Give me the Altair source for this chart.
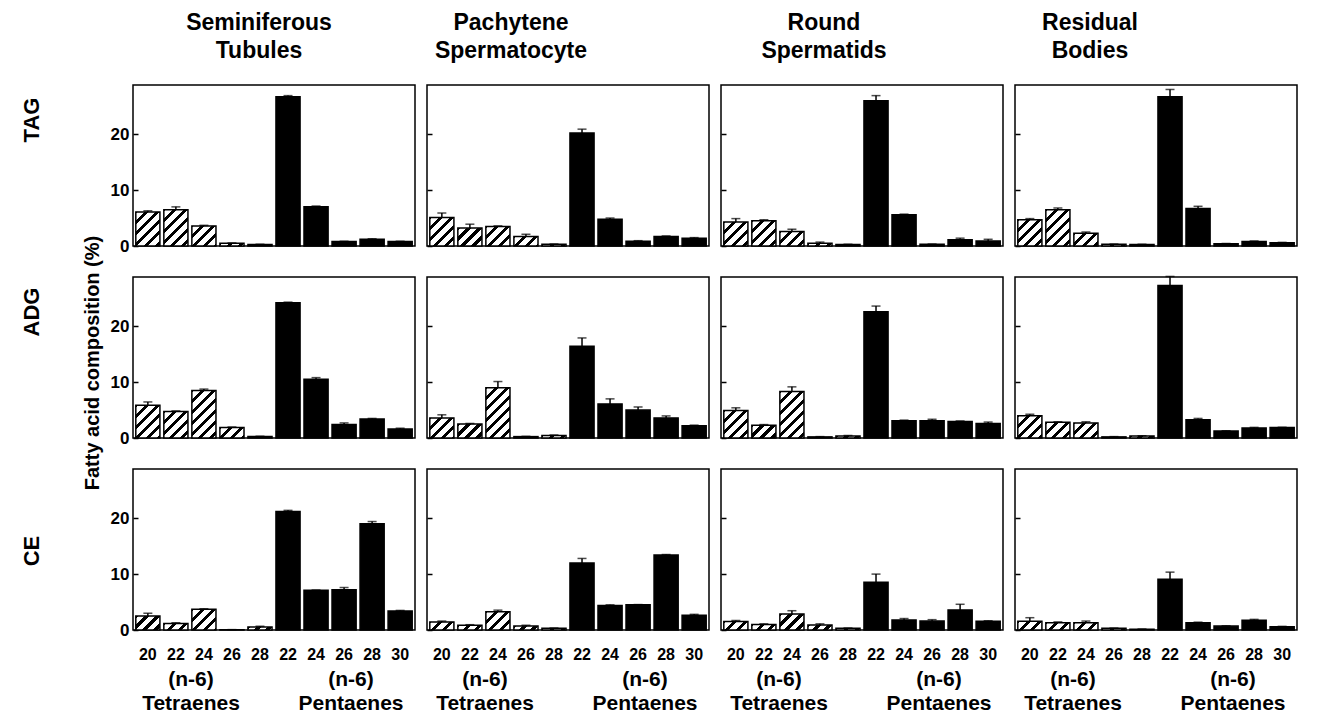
import altair as alt
import pandas as pd

# ---------------- data ----------------
cells = ["Seminiferous Tubules", "Pachytene Spermatocyte", "Round Spermatids", "Residual Bodies"]
cell_titles = [["Seminiferous", "Tubules"], ["Pachytene", "Spermatocyte"], ["Round", "Spermatids"], ["Residual", "Bodies"]]
lipids = ["TAG", "ADG", "CE"]
acids = ["T20", "T22", "T24", "T26", "T28", "P22", "P24", "P26", "P28", "P30"]
tetraenes = ["T20", "T22", "T24", "T26", "T28"]

# TAG
tag_tubules = [6.1, 6.5, 3.6, 0.5, 0.25, 26.7, 7.0, 0.8, 1.2, 0.8]
tag_tubules_err = [0.2, 0.5, 0.1, 0.05, 0.05, 0.2, 0.15, 0.05, 0.1, 0.05]
tag_pachytene = [5.1, 3.2, 3.5, 1.7, 0.3, 20.2, 4.8, 0.85, 1.7, 1.4]
tag_pachytene_err = [0.8, 0.7, 0.1, 0.4, 0.05, 0.7, 0.2, 0.1, 0.1, 0.1]
tag_round = [4.3, 4.5, 2.6, 0.5, 0.25, 26.0, 5.6, 0.3, 1.1, 0.9]
tag_round_err = [0.6, 0.2, 0.4, 0.2, 0.05, 0.9, 0.1, 0.05, 0.3, 0.3]
tag_residual = [4.7, 6.5, 2.3, 0.3, 0.25, 26.7, 6.7, 0.4, 0.8, 0.6]
tag_residual_err = [0.2, 0.3, 0.2, 0.05, 0.05, 1.3, 0.4, 0.05, 0.1, 0.05]

# ADG
adg_tubules = [5.85, 4.75, 8.5, 1.87, 0.25, 24.2, 10.5, 2.4, 3.4, 1.6]
adg_tubules_err = [0.6, 0.1, 0.25, 0.1, 0.05, 0.1, 0.3, 0.3, 0.1, 0.15]
adg_pachytene = [3.6, 2.5, 9.0, 0.25, 0.45, 16.4, 6.1, 5.0, 3.6, 2.2]
adg_pachytene_err = [0.55, 0.1, 1.1, 0.05, 0.1, 1.5, 0.9, 0.55, 0.35, 0.1]
adg_round = [4.9, 2.3, 8.3, 0.2, 0.35, 22.6, 3.1, 3.1, 2.95, 2.6]
adg_round_err = [0.5, 0.1, 0.85, 0.05, 0.1, 1.0, 0.1, 0.25, 0.1, 0.25]
adg_residual = [4.0, 2.8, 2.7, 0.2, 0.35, 27.3, 3.25, 1.25, 1.8, 1.87]
adg_residual_err = [0.25, 0.1, 0.2, 0.05, 0.05, 1.6, 0.25, 0.05, 0.1, 0.05]

# CE
ce_tubules = [2.5, 1.15, 3.7, 0.05, 0.55, 21.2, 7.1, 7.2, 19.0, 3.4]
ce_tubules_err = [0.5, 0.15, 0.1, 0.02, 0.1, 0.2, 0.05, 0.4, 0.4, 0.1]
ce_pachytene = [1.45, 0.85, 3.25, 0.7, 0.3, 12.0, 4.4, 4.5, 13.4, 2.65]
ce_pachytene_err = [0.15, 0.1, 0.3, 0.15, 0.05, 0.8, 0.1, 0.05, 0.1, 0.15]
ce_round = [1.5, 1.0, 2.85, 0.9, 0.3, 8.55, 1.8, 1.6, 3.6, 1.55]
ce_round_err = [0.2, 0.1, 0.6, 0.2, 0.05, 1.45, 0.25, 0.25, 1.0, 0.1]
ce_residual = [1.55, 1.3, 1.3, 0.3, 0.15, 9.1, 1.3, 0.7, 1.75, 0.6]
ce_residual_err = [0.65, 0.15, 0.3, 0.05, 0.05, 1.25, 0.1, 0.05, 0.15, 0.05]

values = {
    "TAG": [(tag_tubules, tag_tubules_err), (tag_pachytene, tag_pachytene_err),
            (tag_round, tag_round_err), (tag_residual, tag_residual_err)],
    "ADG": [(adg_tubules, adg_tubules_err), (adg_pachytene, adg_pachytene_err),
            (adg_round, adg_round_err), (adg_residual, adg_residual_err)],
    "CE": [(ce_tubules, ce_tubules_err), (ce_pachytene, ce_pachytene_err),
           (ce_round, ce_round_err), (ce_residual, ce_residual_err)],
}

# ---------------- layout / style ----------------
FONT = "Liberation Sans"
W, H = 282, 161
YMAX = 28.8
PAD_IN, PAD_OUT = 0.14, 0.1
STEP = W / (len(acids) - PAD_IN + 2 * PAD_OUT)
BAR_W = STEP * (1 - PAD_IN)
TITLE_DX = [-15, -57, -38, -66]


def hatch(v, period=11.0, black=4.2, phase=-2.0):
    """Diagonal '/' hatch built from a striped linear gradient (45 deg in pixels)."""
    w = BAR_W
    h = max(v * H / YMAX, 0.8)
    L = w + h
    s = L / (w * w + h * h)
    stops = [{"offset": 0, "color": "white"}]
    p = phase
    while p < L:
        a, b = max(p, 0) / L, min(p + black, L) / L
        if b > a:
            stops += [{"offset": a, "color": "white"}, {"offset": a, "color": "black"},
                      {"offset": b, "color": "black"}, {"offset": b, "color": "white"}]
        p += period
    stops.append({"offset": 1, "color": "white"})
    return {"gradient": "linear", "x1": 0, "y1": 0, "x2": w * s, "y2": h * s, "stops": stops}


def text_layer(label, x, y, size, angle=0):
    return alt.Chart(pd.DataFrame({"t": [label]})).mark_text(
        font=FONT, fontWeight="bold", fontSize=size, color="black",
        align="center", baseline="middle", angle=angle
    ).encode(text="t:N", x=alt.value(x), y=alt.value(y))


row_label_y = {"TAG": 35, "ADG": 35, "CE": 82}

panels = []
for r, lipid in enumerate(lipids):
    for c, cell in enumerate(cells):
        vals, errs = values[lipid][c]
        df = pd.DataFrame({"acid": acids, "value": vals, "err": errs})
        df["top"] = df["value"] + df["err"]

        fill = {
            "condition": [
                {"test": f"datum.acid === '{a}'", "value": hatch(v)}
                for a, v in zip(acids, vals) if a in tetraenes
            ],
            "value": "black",
        }

        if r == len(lipids) - 1:
            x_axis = alt.Axis(labelExpr="substring(datum.label, 1)", ticks=False, domain=False,
                              labelPadding=16, labelFontSize=16, labelFont=FONT,
                              labelFontWeight="bold", labelColor="black", labelAngle=0, title=None)
        else:
            x_axis = None
        y_axis = alt.Axis(values=[0, 10, 20], offset=-5, tickSize=5, tickWidth=1.5,
                          tickColor="black", domain=False, grid=False,
                          labels=(c == 0), labelFontSize=17, labelFont=FONT,
                          labelFontWeight="bold", labelColor="black", labelPadding=4, title=None)

        x_enc = alt.X("acid:N", sort=acids, axis=x_axis,
                      scale=alt.Scale(paddingInner=PAD_IN, paddingOuter=PAD_OUT))
        y_scale = alt.Scale(domain=[0, YMAX], nice=False)

        base = alt.Chart(df)
        bars = base.mark_bar(stroke="black", strokeWidth=1.5).encode(
            x=x_enc, y=alt.Y("value:Q", scale=y_scale, axis=y_axis), fill=fill)
        stem = base.mark_rule(color="black", strokeWidth=1.5).encode(
            x=alt.X("acid:N", sort=acids), y="value:Q", y2="top:Q")
        cap = base.mark_tick(color="black", thickness=1.5, size=9).encode(
            x=alt.X("acid:N", sort=acids), y="top:Q")

        layers = [bars, stem, cap]
        if c == 0:
            layers.append(text_layer(lipid, -101, row_label_y[lipid], 22, angle=270))
            if lipid == "ADG":
                layers.append(text_layer("Fatty acid composition (%)", -40, 86, 20, angle=270))
        if r == len(lipids) - 1:
            layers += [text_layer("(n-6)", 58, H + 50, 21), text_layer("(n-6)", 218, H + 50, 21),
                       text_layer("Tetraenes", 58, H + 74, 21), text_layer("Pentaenes", 218, H + 74, 21)]

        props = dict(width=W, height=H)
        if r == 0:
            props["title"] = alt.TitleParams(cell_titles[c], font=FONT, fontSize=23, fontWeight="bold",
                                             color="black", anchor="middle", offset=22, lineHeight=28,
                                             dx=TITLE_DX[c])
        panels.append(alt.layer(*layers).properties(**props))

chart = alt.concat(*panels, columns=4, spacing={"row": 31, "column": 12}, bounds="flush").properties(
    padding={"left": 12, "top": 3, "right": 5, "bottom": 3}
).configure_view(stroke="black", strokeWidth=1.5)

chart.save("out.html", embed_options={"renderer": "svg", "actions": False})
